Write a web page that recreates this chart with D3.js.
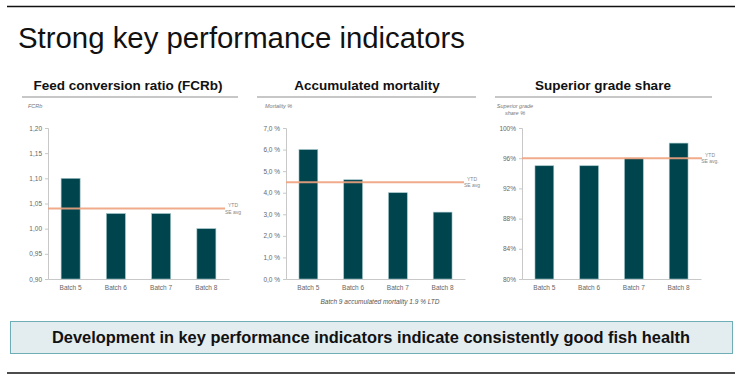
<!DOCTYPE html>
<html>
<head>
<meta charset="utf-8">
<script src="https://cdn.jsdelivr.net/npm/d3@7"></script>
<style>
body { margin:0; background:#fff; font-family:"Liberation Sans", Arial, sans-serif; }
svg text { font-family:"Liberation Sans", Arial, sans-serif; }
</style>
</head>
<body>
<script>
// ---- data ----
var batches = ['Batch 5', 'Batch 6', 'Batch 7', 'Batch 8']

var fcrValues = [1.10, 1.03, 1.03, 1.00]
var fcrAvg = 1.04
var fcrTicks = [0.90, 0.95, 1.00, 1.05, 1.10, 1.15, 1.20]

var mortValues = [6.0, 4.6, 4.0, 3.1]
var mortAvg = 4.48
var mortTicks = [0, 1, 2, 3, 4, 5, 6, 7]

var gradeValues = [95.0, 95.0, 96.0, 98.0]
var gradeAvg = 96.0
var gradeTicks = [80, 84, 88, 92, 96, 100]

var W = 743, H = 378
var barColor = '#00454e'
var avgColor = '#f0a37f'

var svg = d3.select('body').append('svg')
	.attr('width', W)
	.attr('height', H)

//top rule and title
svg.append('line').attr('x1', 7).attr('x2', 735).attr('y1', 6.5).attr('y2', 6.5)
	.attr('stroke', '#111').attr('stroke-width', 1.5)
svg.append('text').attr('x', 18).attr('y', 48)
	.attr('font-size', 30).attr('fill', '#111')
	.attr('textLength', 447).attr('lengthAdjust', 'spacingAndGlyphs')
	.text('Strong key performance indicators')

/**
 * Draw one small bar chart panel
 */
function panel(cfg){
	var g = svg.append('g')

	//panel title and rule under it
	g.append('text').attr('x', cfg.titleX).attr('y', 90)
		.attr('text-anchor', 'middle').attr('font-size', 13.5).attr('font-weight', 'bold').attr('fill', '#111')
		.text(cfg.title)
	g.append('line').attr('x1', cfg.ruleX[0]).attr('x2', cfg.ruleX[1]).attr('y1', 97).attr('y2', 97)
		.attr('stroke', '#b5b5b5').attr('stroke-width', 1.5)

	//unit label
	cfg.unit.forEach(function(s, i){
		g.append('text').attr('x', cfg.unitX).attr('y', 108 + i * 7)
			.attr('text-anchor', cfg.unitAnchor).attr('font-size', 5.5).attr('font-style', 'italic').attr('fill', '#777')
			.text(s)
	})

	var x = d3.scaleBand().domain(batches).range(cfg.xRange).paddingInner(0.58).paddingOuter(0.29)
	var y = d3.scaleLinear().domain(cfg.yDomain).range([279, 128])

	//axes
	var ya = g.append('g').attr('transform', 'translate(' + cfg.xRange[0] + ',0)')
		.call(d3.axisLeft(y).tickValues(cfg.ticks).tickFormat(cfg.fmt).tickSize(3).tickPadding(3))
	ya.select('.domain').attr('stroke', '#c8c8c8')
	ya.selectAll('.tick line').attr('stroke', '#c8c8c8')
	ya.selectAll('.tick text').attr('font-size', 6.5).attr('fill', '#666')

	var xa = g.append('g').attr('transform', 'translate(0,279)')
		.call(d3.axisBottom(x).tickSize(0).tickPadding(6))
	xa.select('.domain').attr('stroke', '#c8c8c8')
	xa.selectAll('.tick text').attr('font-size', 6.5).attr('fill', '#666')

	//bars
	g.selectAll('rect.bar').data(cfg.values).enter().append('rect')
		.classed('bar', true)
		.attr('x', function(d, i){ return x(batches[i]) })
		.attr('width', x.bandwidth())
		.attr('y', function(d){ return y(d) })
		.attr('height', function(d){ return y(cfg.yDomain[0]) - y(d) })
		.attr('fill', barColor)
		.attr('stroke', '#9fc3c8').attr('stroke-width', 0.6)

	//average line
	g.append('line').attr('x1', cfg.xRange[0]).attr('x2', cfg.avgEnd)
		.attr('y1', y(cfg.avg)).attr('y2', y(cfg.avg))
		.attr('stroke', avgColor).attr('stroke-width', 2).attr('opacity', 0.9)
	g.append('text').attr('x', cfg.avgEnd + 8).attr('y', y(cfg.avg) - 1.5)
		.attr('text-anchor', 'middle').attr('font-size', 5).attr('fill', '#888').text('YTD')
	g.append('text').attr('x', cfg.avgEnd + 8).attr('y', y(cfg.avg) + 5)
		.attr('text-anchor', 'middle').attr('font-size', 5).attr('fill', '#888').text(cfg.avgLabel)
}

panel({
	title: 'Feed conversion ratio (FCRb)', titleX: 128, ruleX: [22, 238],
	unit: ['FCRb'], unitX: 28, unitAnchor: 'start',
	xRange: [48, 229], yDomain: [0.90, 1.20], ticks: fcrTicks,
	fmt: function(d){ return d3.format('.2f')(d).replace('.', ',') },
	values: fcrValues, avg: fcrAvg, avgEnd: 225, avgLabel: 'SE avg'
})

panel({
	title: 'Accumulated mortality', titleX: 367, ruleX: [257, 476],
	unit: ['Mortality %'], unitX: 265, unitAnchor: 'start',
	xRange: [286, 465], yDomain: [0, 7], ticks: mortTicks,
	fmt: function(d){ return d3.format('.1f')(d).replace('.', ',') + ' %' },
	values: mortValues, avg: mortAvg, avgEnd: 464, avgLabel: 'SE avg'
})

panel({
	title: 'Superior grade share', titleX: 603, ruleX: [495, 712],
	unit: ['Superior grade', 'share %'], unitX: 515, unitAnchor: 'middle',
	xRange: [522, 701], yDomain: [80, 100], ticks: gradeTicks,
	fmt: function(d){ return d + '%' },
	values: gradeValues, avg: gradeAvg, avgEnd: 702, avgLabel: 'SE avg.'
})

//mortality footnote
svg.append('text').attr('x', 380).attr('y', 304)
	.attr('text-anchor', 'middle').attr('font-size', 6.5).attr('font-style', 'italic').attr('fill', '#555')
	.text('Batch 9 accumulated mortality 1.9 % LTD')

//conclusion box
svg.append('rect').attr('x', 10.5).attr('y', 321.5).attr('width', 722).attr('height', 32)
	.attr('fill', '#e3ecef').attr('stroke', '#6fadb7').attr('stroke-width', 1)
svg.append('text').attr('x', 371).attr('y', 343)
	.attr('text-anchor', 'middle').attr('font-size', 16).attr('font-weight', 'bold').attr('fill', '#111')
	.attr('textLength', 638).attr('lengthAdjust', 'spacingAndGlyphs')
	.text('Development in key performance indicators indicate consistently good fish health')

svg.append('line').attr('x1', 7).attr('x2', 735).attr('y1', 373).attr('y2', 373)
	.attr('stroke', '#111').attr('stroke-width', 1.5)
</script>
</body>
</html>
